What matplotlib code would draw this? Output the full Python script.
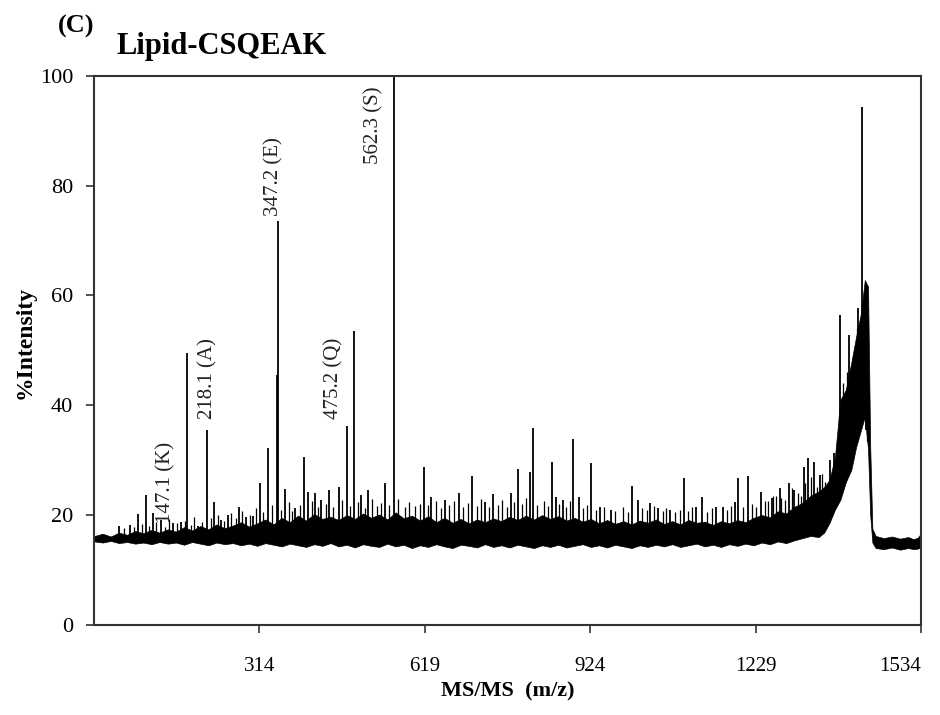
import numpy as np
import matplotlib
matplotlib.use("Agg")
import matplotlib.pyplot as plt

## fonts
plt.rcParams['font.family'] = ['Liberation Serif', 'DejaVu Serif']

## noise band of the spectrum (m/z, lower edge, upper edge)
env_mz = [10, 25, 40, 55, 70, 85, 100, 115, 130, 145,
          160, 175, 190, 205, 220, 235, 250, 265, 280, 295,
          310, 325, 340, 355, 370, 385, 400, 415, 430, 445,
          460, 475, 490, 505, 520, 535, 550, 565, 580, 595,
          610, 625, 640, 655, 670, 685, 700, 715, 730, 745,
          760, 775, 790, 805, 820, 835, 850, 865, 880, 895,
          910, 925, 940, 955, 970, 985, 1000, 1015, 1030, 1045,
          1060, 1075, 1090, 1105, 1120, 1135, 1150, 1165, 1180, 1195,
          1210, 1225, 1240, 1255, 1270, 1285, 1300, 1315, 1330, 1345,
          1355, 1365, 1375, 1385, 1395, 1405, 1414, 1423, 1430, 1436,
          1440, 1444, 1450, 1465, 1480, 1495, 1510, 1520, 1528, 1533]
env_lo = [15.2, 15.0, 15.3, 14.9, 15.1, 14.8, 15.0, 14.7, 15.1, 14.8,
          15.0, 14.6, 15.1, 14.8, 14.5, 15.0, 14.7, 14.9, 14.5, 14.8,
          14.4, 14.9, 14.6, 14.3, 14.8, 14.5, 14.2, 14.7, 14.4, 14.9,
          14.3, 14.6, 14.1, 14.7, 14.4, 14.2, 14.8, 14.3, 14.6, 14.0,
          14.5, 14.2, 14.7, 14.3, 14.0, 14.6, 14.4, 14.1, 14.7, 14.2,
          14.5, 14.1, 14.6, 14.3, 14.0, 14.5, 14.2, 14.6, 14.1, 14.4,
          14.7, 14.2, 14.5, 14.1, 14.6, 14.3, 14.0, 14.5, 14.2, 14.6,
          14.3, 14.7, 14.2, 14.5, 14.8, 14.3, 14.6, 14.2, 14.7, 14.4,
          14.8, 14.5, 15.0, 14.7, 15.2, 14.9, 15.4, 15.8, 16.2, 16.0,
          16.8, 18.6, 21.0, 22.8, 26.0, 28.2, 32.4, 35.5, 37.9, 32.0,
          20.0, 15.0, 14.0, 13.8, 14.1, 13.7, 14.0, 13.8, 13.9, 14.2]
env_hi = [16.2, 16.6, 16.1, 16.8, 16.4, 17.1, 16.7, 17.3, 16.8, 17.4,
          17.0, 17.8, 17.2, 18.0, 17.4, 18.3, 17.6, 18.1, 18.7, 17.9,
          18.5, 19.2, 18.3, 19.5, 18.7, 19.9, 19.0, 20.2, 19.3, 19.7,
          19.1, 20.0, 19.3, 20.3, 19.5, 20.1, 19.2, 20.5, 19.4, 19.9,
          19.0, 19.8, 18.7, 19.5, 18.6, 19.3, 18.5, 19.2, 18.7, 19.4,
          18.9, 19.7, 19.1, 19.9, 19.2, 20.0, 19.3, 19.8, 19.0, 19.5,
          18.8, 19.3, 18.5, 19.1, 18.4, 18.9, 18.3, 19.0, 18.6, 19.2,
          18.4, 18.9, 18.3, 19.1, 18.6, 18.8, 18.2, 18.9, 18.5, 19.1,
          18.7, 19.5, 20.0, 19.6, 20.7, 20.3, 21.5, 22.2, 23.5, 24.3,
          25.1, 26.4, 30.6, 41.0, 42.8, 47.7, 52.5, 56.8, 62.8, 61.6,
          32.4, 17.5, 16.2, 15.8, 16.1, 15.7, 16.0, 15.6, 15.9, 16.6]

## single peaks sticking out of the noise
peak_mz = [55, 76, 91, 104, 117, 133, 155, 170, 180, 200,
           218, 230, 243, 256, 276, 289, 302, 315, 330, 346,
           348, 361, 380, 396, 404, 417, 428, 443, 460, 475,
           489, 502, 515, 545, 562, 617, 630, 656, 682, 706,
           730, 745, 777, 791, 812, 819, 853, 860, 873, 892,
           903, 925, 942, 962, 1001, 1012, 1034, 1049, 1071, 1097,
           1118, 1129, 1155, 1168, 1190, 1197, 1214, 1238, 1259, 1273,
           1290, 1299, 1318, 1325, 1336, 1348, 1366, 1374, 1385, 1401,
           1418, 1425, 1433]
peak_int = [18.0, 18.2, 20.2, 23.7, 20.4, 19.1, 18.6, 18.8, 49.5, 18.0,
            35.5, 22.4, 19.1, 20.0, 21.5, 19.7, 19.9, 25.9, 32.2, 45.5,
            73.5, 24.8, 21.3, 30.6, 24.2, 24.0, 22.8, 24.6, 25.1, 36.2,
            53.5, 23.7, 24.6, 25.9, 100.0, 28.8, 23.3, 22.8, 24.0, 27.1,
            22.4, 23.9, 24.0, 28.4, 27.9, 35.9, 29.7, 23.3, 22.8, 33.9,
            23.3, 29.5, 21.5, 21.0, 25.3, 22.8, 22.2, 21.3, 21.0, 26.8,
            21.5, 23.3, 21.5, 21.5, 22.4, 26.8, 27.1, 24.2, 23.1, 25.0,
            25.9, 24.6, 28.8, 30.4, 29.7, 27.3, 30.0, 31.3, 56.5, 52.8,
            57.7, 94.4, 62.0]

## small hairs on top of the noise band
minor_mz = [64, 83, 97, 110, 124, 140, 148, 162, 176, 188,
            194, 208, 224, 237, 249, 262, 270, 282, 296, 308,
            320, 337, 353, 368, 374, 388, 410, 422, 436, 450,
            466, 481, 495, 508, 522, 530, 538, 552, 570, 582,
            590, 600, 610, 624, 640, 648, 664, 672, 690, 698,
            716, 722, 738, 754, 762, 770, 784, 798, 806, 826,
            838, 846, 866, 880, 886, 910, 918, 934, 950, 970,
            985, 994, 1020, 1028, 1042, 1058, 1064, 1080, 1090, 1105,
            1112, 1140, 1148, 1176, 1184, 1206, 1222, 1230, 1246, 1252,
            1260, 1266, 1276, 1282, 1296, 1306, 1312, 1320, 1330, 1342,
            1352, 1356, 1378, 1382, 1390, 1393, 1398, 1408, 1411, 1416,
            1420, 1428, 1431, 1435]
minor_int = [17.6, 17.9, 18.4, 18.0, 18.8, 17.8, 19.2, 18.5, 18.9, 18.2,
             19.6, 18.7, 19.4, 20.1, 19.0, 20.3, 19.5, 20.8, 20.0, 21.2,
             20.6, 21.8, 21.0, 22.3, 20.7, 21.9, 22.6, 21.4, 22.0, 21.5,
             22.8, 21.7, 22.4, 21.3, 22.9, 21.6, 22.2, 21.8, 23.0, 21.5,
             22.4, 21.7, 22.0, 21.9, 22.5, 21.3, 21.8, 22.6, 21.4, 22.2,
             21.6, 22.9, 21.5, 21.9, 22.7, 21.4, 22.3, 22.0, 23.2, 21.8,
             22.5, 21.6, 22.1, 21.4, 22.6, 21.2, 21.8, 20.9, 21.5, 20.8,
             21.4, 20.6, 21.2, 20.9, 21.6, 20.7, 21.3, 20.5, 21.0, 20.8,
             21.5, 20.6, 21.2, 20.9, 21.7, 21.4, 22.0, 21.5, 22.6, 22.5,
             23.5, 23.4, 23.2, 22.8, 25.0, 24.0, 23.5, 25.8, 27.0, 25.2,
             27.5, 26.0, 33.0, 38.0, 44.0, 40.0, 46.0, 49.0, 45.0, 54.0,
             50.0, 60.0, 58.0, 60.0]

## annotated fragment ions
label_txt = ['147.1 (K)', '218.1 (A)', '347.2 (E)', '475.2 (Q)', '562.3 (S)']
label_x = [141, 219, 341, 452, 525]
label_y = [18.5, 37.5, 74.5, 37.5, 84.0]

x_ticks = [314, 619, 924, 1229, 1534]
y_ticks = [0, 20, 40, 60, 80, 100]

##set up the plot
fig = plt.figure(figsize=(9.4, 7.15), dpi=100)
ax = fig.add_axes([0.1, 0.126, 0.88, 0.768])

ax.fill_between(env_mz, env_lo, env_hi, facecolor='black', edgecolor='black', lw=0.5)

minor_base = np.interp(minor_mz, env_mz, env_lo) + 0.5
peak_base = np.interp(peak_mz, env_mz, env_lo) + 0.5
ax.vlines(minor_mz, minor_base, minor_int, color='black', lw=0.9)
ax.vlines(peak_mz, peak_base, peak_int, color='black', lw=1.3)

for t, x, y in zip(label_txt, label_x, label_y):
    ax.text(x, y, t, rotation=90, ha='center', va='bottom', fontsize=15, color='#222222')

##axes
ax.set_xlim(9, 1534)
ax.set_ylim(0, 100)
ax.set_xticks(x_ticks)
ax.set_xticklabels([str(v) for v in x_ticks])
ax.set_yticks(y_ticks)
ax.tick_params(axis='both', direction='out', length=6, width=1.2, color='#333333')
ax.tick_params(axis='x', pad=17, labelsize=15)
ax.tick_params(axis='y', pad=9, labelsize=16)
ax.get_xticklabels()[-1].set_ha('right')
ax.get_xticklabels()[-1].set_x(1534)
for s in ax.spines.values():
    s.set_linewidth(1.5)
    s.set_color('#333333')

ax.set_xlabel('MS/MS  (m/z)', fontsize=16, fontweight='bold', labelpad=4)
ax.set_ylabel('%Intensity', fontsize=17, fontweight='bold')
ax.yaxis.set_label_coords(-0.07, 0.515)

fig.text(0.062, 0.955, '(C)', fontsize=19, fontweight='bold')
fig.text(0.124, 0.925, 'Lipid-CSQEAK', fontsize=22, fontweight='bold')

fig.savefig('out.png', dpi=100)
